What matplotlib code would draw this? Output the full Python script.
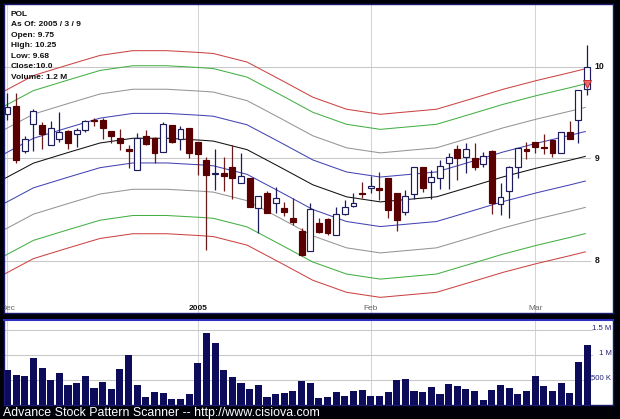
import matplotlib
matplotlib.use("Agg")
import matplotlib.pyplot as plt
import numpy as np
from matplotlib.transforms import blended_transform_factory

plt.rcParams['font.family'] = ['Liberation Sans', 'DejaVu Sans']

# ---------------- data ----------------
ticker = "POL"
info_lines = ["POL", "As Of: 2005 / 3 / 9", "Open: 9.75", "High: 10.25",
              "Low: 9.68", "Close:10.0", "Volume: 1.2 M"]

opens = [9.47, 9.56, 9.08, 9.36, 9.35, 9.14, 9.20, 9.29, 9.25, 9.30,
         9.41, 9.41, 9.29, 9.21, 9.10, 8.88, 9.23, 9.21, 9.07, 9.35,
         9.20, 9.32, 9.17, 8.98, 8.84, 8.85, 8.91, 8.75, 8.80, 8.50,
         8.65, 8.55, 8.50, 8.40, 8.28, 8.09, 8.35, 8.39, 8.24, 8.44,
         8.52, 8.65, 8.70, 8.70, 8.80, 8.65, 8.46, 8.64, 8.91, 8.76,
         8.80, 8.95, 9.10, 9.01, 9.00, 8.94, 9.08, 8.54, 8.67, 8.91,
         9.10, 9.17, 9.12, 9.19, 9.06, 9.28, 9.41, 9.75]
highs = [9.70, 9.70, 9.23, 9.53, 9.38, 9.40, 9.49, 9.30, 9.32, 9.41,
         9.43, 9.43, 9.29, 9.31, 9.14, 9.27, 9.30, 9.22, 9.38, 9.35,
         9.34, 9.32, 9.17, 9.01, 9.10, 9.01, 9.14, 9.06, 8.80, 8.62,
         8.67, 8.71, 8.56, 8.60, 8.31, 8.55, 8.40, 8.40, 8.51, 8.58,
         8.65, 8.76, 8.82, 8.86, 8.80, 8.65, 8.68, 8.91, 8.91, 8.88,
         8.98, 9.05, 9.14, 9.16, 9.16, 9.07, 9.09, 8.75, 8.92, 9.11,
         9.17, 9.17, 9.26, 9.19, 9.28, 9.40, 9.74, 10.25]
lows = [9.41, 8.95, 9.06, 9.08, 9.10, 9.14, 9.17, 9.10, 9.12, 9.28,
        9.34, 9.20, 9.16, 9.09, 8.90, 8.88, 9.14, 8.95, 9.07, 9.16,
        9.09, 9.00, 8.83, 8.10, 8.68, 8.67, 8.59, 8.75, 8.51, 8.26,
        8.45, 8.45, 8.42, 8.34, 8.04, 8.09, 8.26, 8.24, 8.24, 8.43,
        8.51, 8.60, 8.65, 8.58, 8.40, 8.28, 8.43, 8.59, 8.66, 8.59,
        8.69, 8.69, 8.78, 8.85, 8.88, 8.91, 8.44, 8.43, 8.40, 8.80,
        8.99, 9.06, 9.04, 9.01, 9.06, 9.20, 9.16, 9.68]
closes = [9.55, 8.98, 9.20, 9.50, 9.25, 9.32, 9.28, 9.16, 9.30, 9.40,
          9.39, 9.32, 9.23, 9.16, 9.08, 9.21, 9.15, 9.06, 9.36, 9.17,
          9.31, 9.06, 9.04, 8.83, 8.85, 8.82, 8.80, 8.82, 8.51, 8.62,
          8.45, 8.60, 8.46, 8.36, 8.05, 8.49, 8.27, 8.26, 8.44, 8.51,
          8.55, 8.64, 8.72, 8.68, 8.48, 8.38, 8.62, 8.91, 8.70, 8.81,
          8.92, 9.01, 9.00, 9.10, 8.91, 9.02, 8.55, 8.61, 8.91, 9.11,
          9.08, 9.12, 9.11, 9.05, 9.28, 9.20, 9.74, 10.0]
volumes_m = [0.70, 0.60, 0.58, 0.95, 0.75, 0.50, 0.64, 0.41, 0.45, 0.59,
             0.35, 0.47, 0.32, 0.73, 1.00, 0.41, 0.16, 0.26, 0.24, 0.12,
             0.13, 0.22, 0.84, 1.45, 1.25, 0.70, 0.57, 0.45, 0.32, 0.41,
             0.17, 0.22, 0.25, 0.29, 0.49, 0.45, 0.14, 0.16, 0.26, 0.18,
             0.28, 0.30, 0.18, 0.18, 0.26, 0.50, 0.52, 0.28, 0.26, 0.37,
             0.23, 0.42, 0.38, 0.32, 0.28, 0.10, 0.30, 0.41, 0.34, 0.22,
             0.28, 0.59, 0.39, 0.29, 0.45, 0.25, 0.87, 1.21]

month_idx = [0, 22, 42, 61]
month_labels = ["Dec", "2005", "Feb", "Mar"]
price_ticks = [8, 9, 10]
vol_ticks = [0.5, 1.0, 1.5]
vol_tick_labels = ["500 K", "1 M", "1.5 M"]

center_idx = [-0.4, 3, 7, 10.7, 14.5, 18.4, 22.3, 23.8, 27.7, 31.5, 35.3,
              39.2, 43.1, 45.7, 49.6, 53.5, 57.3, 61.2, 65, 66.8]
center_val = [8.79, 8.95, 9.06, 9.16, 9.21, 9.21, 9.19, 9.18, 9.09, 8.91, 8.73,
              8.61, 8.56, 8.58, 8.61, 8.71, 8.81, 8.90, 8.98, 9.02]
band_upper = [1.029, 1.058, 1.087, 1.106]
band_lower = [0.972, 0.943, 0.915, 0.896]
band_colors = ["#4444b4", "#959595", "#44b044", "#cc4444"]

signal_idx = 67
signal_price = 9.80

# ---------------- figure ----------------
W, H = 620, 419
fig = plt.figure(figsize=(W / 100, H / 100), dpi=100, facecolor="#000008")

def fx(px):
    return px / W

def fy(py):
    return 1 - py / H

ax = fig.add_axes([fx(4), fy(313), fx(609), 309 / H])
axv = fig.add_axes([fx(4), fy(405), fx(609), 85 / H])

n = len(opens)
idx = np.arange(n)
o = np.array(opens); h = np.array(highs); l = np.array(lows); c = np.array(closes)

for a in (ax, axv):
    a.set_facecolor("white")
    a.set_xticks([]); a.set_yticks([])
    for s in a.spines.values():
        s.set_color("#1a1a70")
        s.set_linewidth(1.0)
    a.set_xlim(-0.4, 70.0)
axv.spines["top"].set_color("#3030c0")
axv.spines["top"].set_linewidth(1.5)

ax.set_yscale("log")
ax.set_ylim(7.533, 10.748)
ax.yaxis.set_major_locator(matplotlib.ticker.NullLocator())
ax.yaxis.set_minor_locator(matplotlib.ticker.NullLocator())

# grid
for m in month_idx:
    ax.axvline(m, color="#d4d4d4", lw=0.75, zorder=0)
    axv.axvline(m, color="#d4d4d4", lw=0.75, zorder=0)
for p in price_ticks:
    ax.axhline(p, xmin=0, xmax=0.962, color="#c8c8c8", lw=0.75, zorder=0)
for v in vol_ticks:
    axv.axhline(v, xmin=0, xmax=0.965, color="#c8c8c8", lw=0.75, zorder=0)

# bands
cv = np.array(center_val)
ax.plot(center_idx, cv, color="#111111", lw=0.75, zorder=1)
for fu, fl, col in zip(band_upper, band_lower, band_colors):
    ax.plot(center_idx, cv * fu, color=col, lw=0.75, zorder=1)
    ax.plot(center_idx, cv * fl, color=col, lw=0.75, zorder=1)

# candles
up = c >= o
wick_cols = np.where(up, "#1c1c5c", "#6a1a1a")
ax.vlines(idx, l, h, colors=wick_cols, lw=0.9, zorder=2)
bottoms = np.minimum(o, c)
heights = np.maximum(np.abs(c - o), 0.004)
ax.bar(idx[up], heights[up], bottom=bottoms[up], width=0.68,
       color="white", edgecolor="#1c1c5c", lw=0.85, zorder=3)
ax.bar(idx[~up], heights[~up], bottom=bottoms[~up], width=0.68,
       color="#5a0000", edgecolor="#5a0000", lw=0.85, zorder=3)
ax.plot([signal_idx], [signal_price], marker="v", ms=6, color="#e86a6a",
        mec="#c02020", mew=0.6, zorder=4)

# price labels
tr = blended_transform_factory(ax.transAxes, ax.transData)
for p in price_ticks:
    ax.text(0.970, p, str(p), transform=tr, ha="left", va="center",
            fontsize=6.2, fontweight="bold", color="#111111")

# month labels
trx = blended_transform_factory(ax.transData, ax.transAxes)
for m, lab in zip(month_idx, month_labels):
    bold = lab.isdigit()
    ax.text(m, 0.014, lab, transform=trx, ha="center", va="center",
            fontsize=6.0, fontweight="bold" if bold else "normal",
            color="#111111" if bold else "#666666", clip_on=True)

# info text
for k, line in enumerate(info_lines):
    fig.text(fx(10.5), fy(14 + k * 10.55), line, ha="left", va="center",
             fontsize=6.0, fontweight="bold", color="#111111")

# volume
axv.bar(idx, volumes_m, width=0.82, color="#0c0c5a", zorder=2)
axv.set_ylim(0, 1.7)
trv = blended_transform_factory(axv.transAxes, axv.transData)
for v, lab in zip(vol_ticks, vol_tick_labels):
    axv.text(0.9975, v + 0.03, lab, transform=trv, ha="right", va="center",
             fontsize=5.6, color="#202078")

fig.text(fx(3), fy(412.5), "Advance Stock Pattern Scanner -- http://www.cisiova.com",
         ha="left", va="center", fontsize=8.9, color="white")

fig.savefig("out.png", dpi=100, facecolor=fig.get_facecolor())
